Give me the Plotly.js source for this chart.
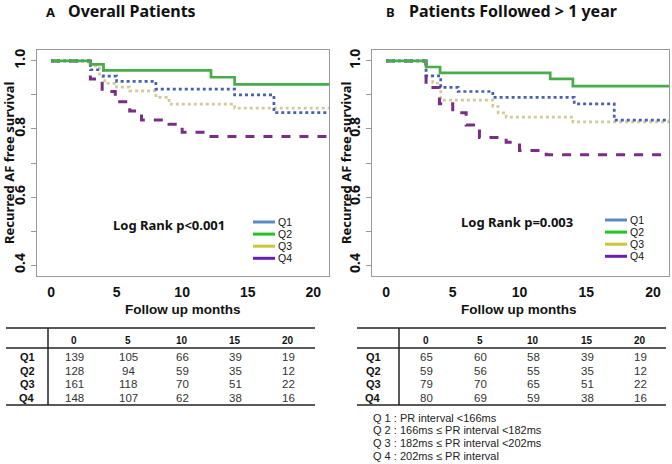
<!DOCTYPE html>
<html><head><meta charset="utf-8">
<script src="https://cdn.plot.ly/plotly-3.0.1.min.js"></script>
<style>html,body{margin:0;padding:0;background:#fff}#chart{width:672px;height:464px}</style>
</head><body><div id="chart"></div>
<script>
// ---------- DATA ----------
const groups = ["Q1", "Q2", "Q3", "Q4"];
// Panel A: Overall Patients (step times in months, survival)
const A_Q1_t = [0, 3, 4, 5, 8, 14, 17, 21.2];
const A_Q1_s = [1, 0.974, 0.955, 0.940, 0.917, 0.900, 0.848, 0.848];
const A_Q2_t = [0, 3, 4, 12.2, 14, 21.2];
const A_Q2_s = [1, 0.990, 0.972, 0.952, 0.931, 0.931];
const A_Q3_t = [0, 3, 3.7, 4.1, 5, 6, 8, 9, 14, 21.2];
const A_Q3_s = [1, 0.985, 0.954, 0.934, 0.923, 0.912, 0.893, 0.873, 0.861, 0.861];
const A_Q4_t = [0, 3, 3.9, 4.9, 6, 6.9, 9, 10, 12, 21.2];
const A_Q4_s = [1, 0.947, 0.910, 0.880, 0.853, 0.826, 0.814, 0.790, 0.778, 0.778];
// Panel B: Patients Followed > 1 year
const B_Q1_t = [0, 3, 4.1, 5.4, 8, 14.1, 17.1, 21.2];
const B_Q1_s = [1, 0.956, 0.922, 0.910, 0.893, 0.874, 0.826, 0.826];
const B_Q2_t = [0, 3, 4.05, 12.3, 14, 21.2];
const B_Q2_s = [1, 0.982, 0.965, 0.947, 0.926, 0.926];
const B_Q3_t = [0, 3, 3.5, 4.1, 8, 8.4, 9, 14, 21.2];
const B_Q3_s = [1, 0.955, 0.935, 0.885, 0.866, 0.847, 0.835, 0.821, 0.821];
const B_Q4_t = [0, 3, 4, 5, 6, 7, 9, 10, 12, 21.2];
const B_Q4_s = [1, 0.922, 0.874, 0.848, 0.812, 0.775, 0.761, 0.737, 0.724, 0.724];
// Numbers at risk
const riskTimes = ["0", "5", "10", "15", "20"];
const A_risk_Q1 = [139, 105, 66, 39, 19];
const A_risk_Q2 = [128, 94, 59, 35, 12];
const A_risk_Q3 = [161, 118, 70, 51, 22];
const A_risk_Q4 = [148, 107, 62, 38, 16];
const B_risk_Q1 = [65, 60, 58, 39, 19];
const B_risk_Q2 = [59, 56, 55, 35, 12];
const B_risk_Q3 = [79, 70, 65, 51, 22];
const B_risk_Q4 = [80, 69, 59, 38, 16];
const xTicks = [0, 5, 10, 15, 20];
const yTicks = [0.4, 0.5, 0.6, 0.7, 0.8, 0.9, 1.0];
const yTickText = ["0.4", "", "0.6", "", "0.8", "", "1.0"];
const footnotes = ["Q 1 : PR interval <166ms", "Q 2 : 166ms \u2264 PR interval <182ms",
                   "Q 3 : 182ms \u2264 PR interval <202ms", "Q 4 : 202ms \u2264 PR interval"];
const pA = "Log Rank p<0.001", pB = "Log Rank p=0.003";

// ---------- STYLE ----------
const W = 672, H = 464;
const FONT = "Noto Sans, DejaVu Sans, sans-serif";
const TFONT = "Liberation Sans, Arial, sans-serif";
const curveStyle = {
  Q1: {color: "#4660b2", dash: "dot", width: 2.7},
  Q2: {color: "#46ad4a", dash: "solid", width: 2.7},
  Q3: {color: "#d2ca9c", dash: "dot", width: 2.7},
  Q4: {color: "#7b2d86", dash: "dash", width: 3}
};
const legendColors = {Q1: "#5a8ac6", Q2: "#22c322", Q3: "#c8c83a", Q4: "#6a1fb0"};
const px = x => x / W, py = y => 1 - y / H;

const A_curves = {Q1: [A_Q1_t, A_Q1_s], Q2: [A_Q2_t, A_Q2_s], Q3: [A_Q3_t, A_Q3_s], Q4: [A_Q4_t, A_Q4_s]};
const B_curves = {Q1: [B_Q1_t, B_Q1_s], Q2: [B_Q2_t, B_Q2_s], Q3: [B_Q3_t, B_Q3_s], Q4: [B_Q4_t, B_Q4_s]};
const A_risk = [A_risk_Q1, A_risk_Q2, A_risk_Q3, A_risk_Q4];
const B_risk = [B_risk_Q1, B_risk_Q2, B_risk_Q3, B_risk_Q4];

const traces = [];
function addCurves(curves, xa, ya) {
  for (const g of ["Q3", "Q1", "Q4", "Q2"]) {
    traces.push({type: "scatter", mode: "lines", x: curves[g][0], y: curves[g][1],
      xaxis: xa, yaxis: ya, line: Object.assign({shape: "hv"}, curveStyle[g]),
      name: g, showlegend: false, hoverinfo: "skip"});
  }
}
addCurves(A_curves, "x", "y");
addCurves(B_curves, "x2", "y2");

const annotations = [], shapes = [];
function txt(x, y, text, size, bold, anchor, extra, family) {
  annotations.push(Object.assign({xref: "paper", yref: "paper", x: px(x), y: py(y), text: bold ? "<b>" + text + "</b>" : text,
    showarrow: false, xanchor: anchor || "center", yanchor: "middle", borderpad: 0,
    font: {family: family || FONT, size: size, color: "#111"}}, extra || {}));
}
function hline(x0, x1, y, w) {
  shapes.push({type: "line", xref: "paper", yref: "paper", x0: px(x0), x1: px(x1), y0: py(y), y1: py(y), line: {color: "#222", width: w}});
}
function vline(x, y0, y1, w) {
  shapes.push({type: "line", xref: "paper", yref: "paper", x0: px(x), x1: px(x), y0: py(y0), y1: py(y1), line: {color: "#222", width: w}});
}

// Panel geometry (pixel positions)
const panels = [
  {letter: "A", title: "Overall Patients", letterX: 50, titleX: 67, ytitleX: 9, xtitleX: 182, p: pA, pX: 169, pY: 225,
   legX: 253, legY: 222, tab: {x0: 6, x1: 315, vx: 48, lab: 27, cols: [74, 128, 182, 235, 288]}, risk: A_risk},
  {letter: "B", title: "Patients Followed > 1 year", letterX: 390, titleX: 408, ytitleX: 346, xtitleX: 518, p: pB, pX: 517, pY: 222,
   legX: 605, legY: 220, tab: {x0: 357, x1: 666, vx: 399, lab: 373, cols: [426, 480, 533, 587, 640]}, risk: B_risk}
];

for (const P of panels) {
  txt(P.letterX, 12, P.letter, 13, true);
  txt(P.titleX, 11, P.title, 16, true, "left");
  txt(P.ytitleX, 163, "Recurred AF free survival", 13, true, "center", {textangle: -90});
  txt(P.xtitleX, 309, "Follow up months", 13.5, true, "center", null, TFONT);
  txt(P.pX, P.pY, P.p, 13, true);
  groups.forEach((g, i) => {
    const y = P.legY + i * 12.1;
    shapes.push({type: "line", xref: "paper", yref: "paper", x0: px(P.legX), x1: px(P.legX + 22), y0: py(y), y1: py(y),
      line: {color: legendColors[g], width: 3}});
    txt(P.legX + 24, y, g, 10.5, false, "left", null, TFONT);
  });
  // risk table
  const T = P.tab;
  hline(T.x0, T.x1, 328, 1.5); hline(T.x0, T.x1, 348, 1.5); hline(T.x0, T.x1, 405, 1.5);
  vline(T.vx, 328, 405, 1.5);
  riskTimes.forEach((t, j) => txt(T.cols[j], 340, t, 10, true, "center", null, TFONT));
  groups.forEach((g, i) => {
    const y = 357 + i * 13.6;
    txt(T.lab, y, g, 11, true, "center", null, TFONT);
    P.risk[i].forEach((v, j) => txt(T.cols[j], y, String(v), 11.5, false, "center", {font: {family: TFONT, size: 11.5, color: "#333"}}));
  });
}
footnotes.forEach((f, i) => txt(372, 417.5 + i * 12.8, f, 11, false, "left", {font: {family: TFONT, size: 11, color: "#222"}}));

const axX = dom => ({domain: dom, range: [-1.07, 21.2], tickvals: xTicks, ticks: "outside", ticklen: 3,
  tickcolor: "rgba(0,0,0,0)", showline: true, mirror: true, linecolor: "#999", linewidth: 1, showgrid: false,
  zeroline: false, tickfont: {family: TFONT, size: 14, color: "#111", weight: "bold"}});
const axY = () => ({domain: [py(276), py(50)], range: [0.368, 1.032], tickvals: yTicks, ticktext: yTickText,
  ticks: "outside", ticklen: 5, tickcolor: "#999", tickangle: -90, showline: true, mirror: true, linecolor: "#999",
  linewidth: 1, showgrid: false, zeroline: false, tickfont: {family: FONT, size: 14, color: "#111", weight: "bold"}});

const xa2 = axX([px(372), px(669)]); xa2.range = [-1.05, 21.2];
const layout = {
  width: W, height: H, margin: {l: 0, r: 0, t: 0, b: 0}, paper_bgcolor: "#fff", plot_bgcolor: "#fff",
  showlegend: false, font: {family: FONT},
  xaxis: axX([px(37), px(329)]), yaxis: axY(),
  xaxis2: Object.assign(xa2, {anchor: "y2"}), yaxis2: Object.assign(axY(), {anchor: "x2"}),
  annotations: annotations, shapes: shapes
};
Plotly.newPlot("chart", traces, layout, {staticPlot: true});
</script></body></html>
